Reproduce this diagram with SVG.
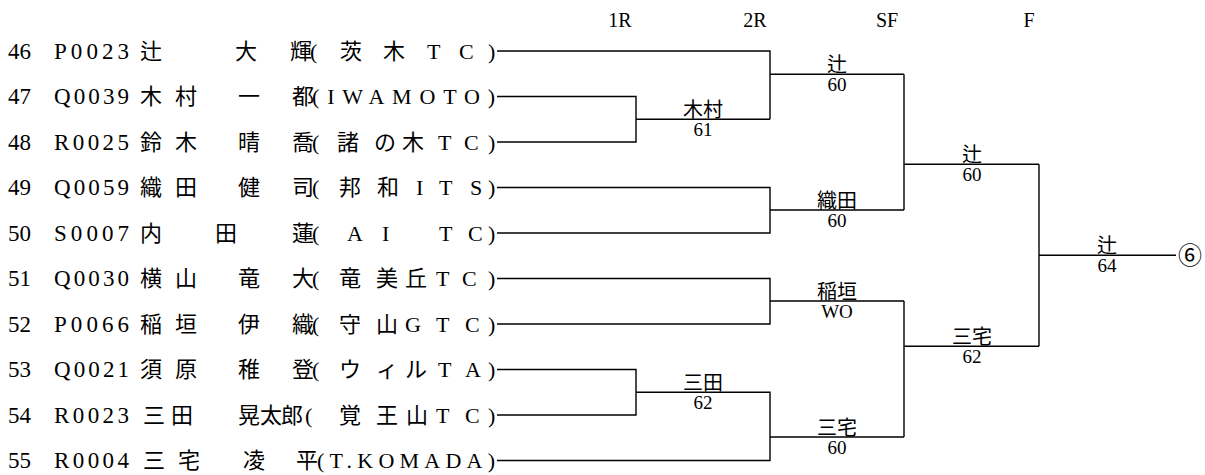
<svg xmlns="http://www.w3.org/2000/svg" width="1205" height="475" viewBox="0 0 1205 475">
<style>
text{font-family:'Liberation Serif','DejaVu Serif','Noto Sans CJK JP',serif;fill:#000}
.row{font-size:22px}
.lat{font-size:23px}
.hdr{font-size:20px;text-anchor:middle}
.nm{font-size:20px;text-anchor:middle}
.sc{font-size:19px;text-anchor:middle}
.ln{fill:none;stroke:#000;stroke-width:1.4}
</style>
<rect width="1205" height="475" fill="#fff"/>
<g id="header">
<text class="hdr" x="620" y="27">1R</text>
<text class="hdr" x="755" y="27">2R</text>
<text class="hdr" x="887" y="27">SF</text>
<text class="hdr" x="1029" y="27">F</text>
</g>
<g id="p46" class="row"><text class="lat" x="8" y="58.5">46</text><text class="lat" x="54" y="58.5" textLength="75" lengthAdjust="spacing">P0023</text><text x="140 235 290" y="58.5">辻大輝</text><text x="310 340 383 427 459 488" y="58.5">(茨木TC)</text></g>
<g id="p47" class="row"><text class="lat" x="8" y="104">47</text><text class="lat" x="54" y="104" textLength="75" lengthAdjust="spacing">Q0039</text><text x="140 175 238 292" y="104">木村一都</text><text x="312" y="104" textLength="183" lengthAdjust="spacing">(IWAMOTO)</text></g>
<g id="p48" class="row"><text class="lat" x="8" y="149.5">48</text><text class="lat" x="54" y="149.5" textLength="75" lengthAdjust="spacing">R0025</text><text x="140 175 238 292" y="149.5">鈴木晴喬</text><text x="312 337 374 402 438 464 488" y="149.5">(諸の木TC)</text></g>
<g id="p49" class="row"><text class="lat" x="8" y="195">49</text><text class="lat" x="54" y="195" textLength="75" lengthAdjust="spacing">Q0059</text><text x="140 175 238 292" y="195">織田健司</text><text x="312 339 377 416 439 470 488" y="195">(邦和ITS)</text></g>
<g id="p50" class="row"><text class="lat" x="8" y="240.5">50</text><text class="lat" x="54" y="240.5" textLength="75" lengthAdjust="spacing">S0007</text><text x="140 215 292" y="240.5">内田蓮</text><text x="312 347 382 439 468 488" y="240.5">(AITC)</text></g>
<g id="p51" class="row"><text class="lat" x="8" y="286">51</text><text class="lat" x="54" y="286" textLength="75" lengthAdjust="spacing">Q0030</text><text x="140 175 238 292" y="286">横山竜大</text><text x="312 339 376 405 436 462 488" y="286">(竜美丘TC)</text></g>
<g id="p52" class="row"><text class="lat" x="8" y="331.5">52</text><text class="lat" x="54" y="331.5" textLength="75" lengthAdjust="spacing">P0066</text><text x="140 175 238 292" y="331.5">稲垣伊織</text><text x="312 339 376 405 436 465 488" y="331.5">(守山GTC)</text></g>
<g id="p53" class="row"><text class="lat" x="8" y="377">53</text><text class="lat" x="54" y="377" textLength="75" lengthAdjust="spacing">Q0021</text><text x="140 175 238 292" y="377">須原稚登</text><text x="312 339 376 405 438 465 488" y="377">(ウィルTA)</text></g>
<g id="p54" class="row"><text class="lat" x="8" y="422.5">54</text><text class="lat" x="54" y="422.5" textLength="75" lengthAdjust="spacing">R0023</text><text x="143 171 238 260 281" y="422.5">三田晃太郎</text><text x="305 339 376 406 436 465 488" y="422.5">(覚王山TC)</text></g>
<g id="p55" class="row"><text class="lat" x="8" y="468">55</text><text class="lat" x="54" y="468" textLength="75" lengthAdjust="spacing">R0004</text><text x="143 178 243 296" y="468">三宅凌平</text><text x="317" y="468" textLength="178" lengthAdjust="spacing">(T.KOMADA)</text></g>
<g id="connectors" class="ln">
<path d="M497 51H770V119.3M497 96.5H636V142H497M636 119.3H770M770 74.3H904"/>
<path d="M497 187.5H770V233H497M770 210H904"/>
<path d="M497 278.5H770V324H497M770 301H904"/>
<path d="M497 369.5H636V415H497M636 392.3H770V460.5H497M770 437H904"/>
<path d="M904 74.3V210M904 164.3H1039M904 301V437M904 346.3H1039"/>
<path d="M1039 164.3V346.3M1039 255.3H1176"/>
</g>
<g id="m1r-a"><text class="nm" x="703" y="117">木村</text><text class="sc" x="703" y="136">61</text></g>
<g id="m2r-a"><text class="nm" x="837" y="72">辻</text><text class="sc" x="837" y="91">60</text></g>
<g id="m2r-b"><text class="nm" x="837" y="208">織田</text><text class="sc" x="837" y="227">60</text></g>
<g id="m2r-c"><text class="nm" x="837" y="299">稲垣</text><text class="sc" x="837" y="318">WO</text></g>
<g id="m1r-b"><text class="nm" x="703" y="390">三田</text><text class="sc" x="703" y="409">62</text></g>
<g id="m2r-d"><text class="nm" x="837" y="435">三宅</text><text class="sc" x="837" y="454">60</text></g>
<g id="msf-a"><text class="nm" x="972" y="162">辻</text><text class="sc" x="972" y="181">60</text></g>
<g id="msf-b"><text class="nm" x="972" y="344">三宅</text><text class="sc" x="972" y="363">62</text></g>
<g id="mf"><text class="nm" x="1107" y="253">辻</text><text class="sc" x="1107" y="272">64</text></g>
<g id="result"><text x="1178" y="264" style="font-size:24px;font-family:'Noto Sans CJK JP',sans-serif">⑥</text></g>
</svg>
